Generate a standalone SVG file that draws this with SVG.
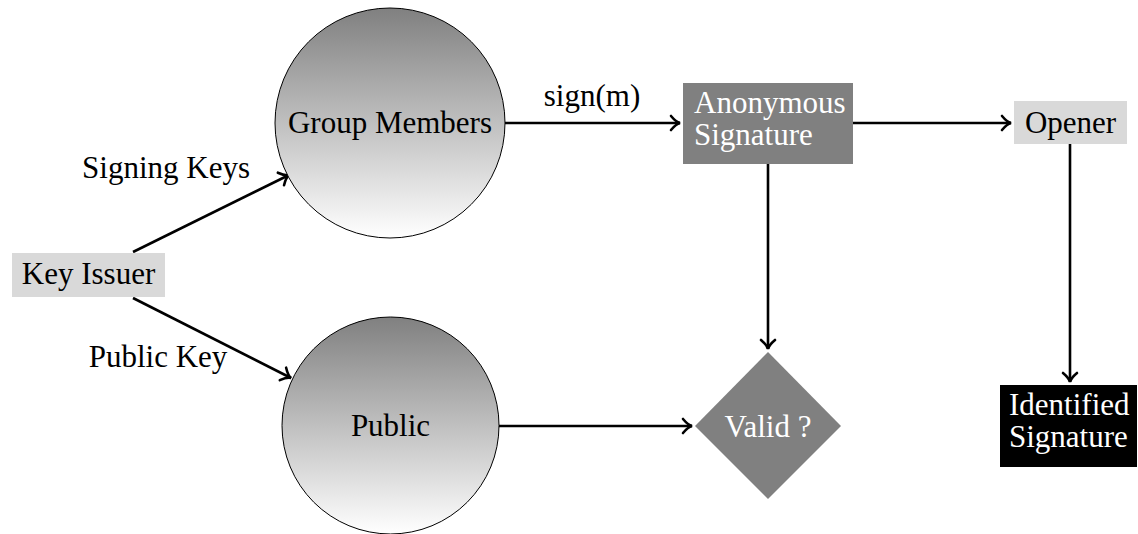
<svg xmlns="http://www.w3.org/2000/svg" width="1138" height="534" viewBox="0 0 1138 534" font-family="'Liberation Serif', 'DejaVu Serif', serif">
<style>
text{font-family:'Liberation Serif','DejaVu Serif',serif;font-size:31px;fill:#000}
.w{fill:#fff}
.c{text-anchor:middle}
.edge{stroke:#000;stroke-width:2.6;fill:none;marker-end:url(#ah)}
</style>
<defs>
<linearGradient id="g" x1="0" y1="0" x2="0" y2="1">
<stop offset="0" stop-color="#808080"/>
<stop offset="1" stop-color="#ffffff"/>
</linearGradient>
<marker id="ah" markerUnits="userSpaceOnUse" markerWidth="20" markerHeight="20" viewBox="-12 -10 14 20" refX="0" refY="0" orient="auto">
<path d="M-9,-7 Q-4,-1 0,0 Q-4,1 -9,7" fill="none" stroke="#000" stroke-width="2.6" stroke-linecap="round"/>
</marker>
</defs>
<g id="connectors">
<line class="edge" x1="133" y1="252" x2="289" y2="175"/>
<line class="edge" x1="133" y1="298" x2="291" y2="378"/>
<line class="edge" x1="505" y1="123" x2="680" y2="123"/>
<line class="edge" x1="853" y1="123" x2="1011" y2="123"/>
<line class="edge" x1="768" y1="164" x2="768" y2="349"/>
<line class="edge" x1="499" y1="426" x2="692" y2="426"/>
<line class="edge" x1="1070" y1="144" x2="1070" y2="382"/>
<text x="166" y="178" class="c">Signing Keys</text>
<text x="158" y="367" class="c">Public Key</text>
<text x="592" y="106" class="c">sign(m)</text>
</g>
<g id="key-issuer">
<rect x="12" y="253" width="153" height="44" fill="#d9d9d9"/>
<text x="88.5" y="284" class="c">Key Issuer</text>
</g>
<g id="group-members">
<circle cx="390" cy="123" r="115" fill="url(#g)" stroke="#000" stroke-width="1"/>
<text x="390" y="133" class="c">Group Members</text>
</g>
<g id="public">
<circle cx="390.5" cy="425.5" r="108.5" fill="url(#g)" stroke="#000" stroke-width="1"/>
<text x="390.5" y="436" class="c">Public</text>
</g>
<g id="anonymous-signature">
<rect x="683" y="83" width="170" height="81" fill="#808080"/>
<text x="694" y="113" class="w">Anonymous</text>
<text x="694" y="145" class="w">Signature</text>
</g>
<g id="opener">
<rect x="1014" y="101" width="113" height="43" fill="#d9d9d9"/>
<text x="1070.5" y="133" class="c">Opener</text>
</g>
<g id="valid">
<polygon points="768,352 841,426 768,499 695,426" fill="#808080"/>
<text x="768" y="437" class="c w">Valid ?</text>
</g>
<g id="identified-signature">
<rect x="1000" y="385" width="137" height="82" fill="#000"/>
<text x="1009" y="415" class="w">Identified</text>
<text x="1009" y="447" class="w">Signature</text>
</g>
</svg>
